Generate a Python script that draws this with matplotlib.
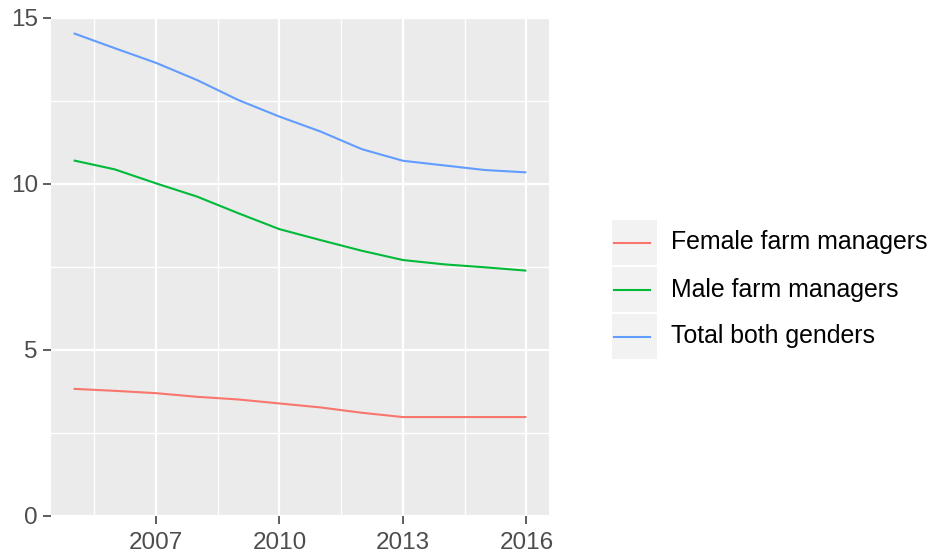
import matplotlib
matplotlib.use("Agg")
import matplotlib.pyplot as plt
from matplotlib.patches import Rectangle
from matplotlib.lines import Line2D

plt.rcParams['font.family'] = ['Liberation Sans', 'DejaVu Sans']

years = [2005, 2006, 2007, 2008, 2009, 2010, 2011, 2012, 2013, 2014, 2015, 2016]
female = [3.83, 3.77, 3.70, 3.59, 3.51, 3.39, 3.27, 3.11, 2.98, 2.98, 2.98, 2.98]
male = [10.71, 10.44, 10.02, 9.62, 9.12, 8.64, 8.31, 7.99, 7.71, 7.58, 7.49, 7.39]
total = [14.54, 14.09, 13.65, 13.13, 12.53, 12.03, 11.58, 11.05, 10.70, 10.56, 10.42, 10.35]
series_names = ["Female farm managers", "Male farm managers", "Total both genders"]
series_values = [female, male, total]
colors = ["#F8766D", "#00BA38", "#619CFF"]
x_ticks = [2007, 2010, 2013, 2016]
x_minor = [2005.5, 2008.5, 2011.5, 2014.5]
y_ticks = [0, 5, 10, 15]
y_minor = [2.5, 7.5, 12.5]

W, H = 933, 555
fig = plt.figure(figsize=(W / 100, H / 100), dpi=100)
fig.patch.set_facecolor("white")

left, right, top, bottom = 51, 549, 18, 516
ax = fig.add_axes([left / W, 1 - bottom / H, (right - left) / W, (bottom - top) / H])
ax.set_facecolor("#EBEBEB")

for name, vals, c in zip(series_names, series_values, colors):
    ax.plot(years, vals, color=c, lw=1.5, solid_capstyle="butt", zorder=3)

ax.set_xlim(2004.45, 2016.55)
ax.set_ylim(0, 15)
ax.set_xticks(x_ticks)
ax.set_xticks(x_minor, minor=True)
ax.set_yticks(y_ticks)
ax.set_yticks(y_minor, minor=True)
ax.set_xticklabels([str(t) for t in x_ticks])
ax.grid(which="major", color="white", lw=1.6, zorder=1)
ax.grid(which="minor", color="white", lw=1.0, zorder=1)
ax.set_axisbelow(True)
for s in ax.spines.values():
    s.set_visible(False)
ax.tick_params(which="major", length=5.5, width=1.1, color="#333333",
               labelsize=17.5, labelcolor="#4D4D4D")
ax.tick_params(axis="x", which="major", pad=6)
ax.tick_params(axis="y", which="major", pad=4)
ax.tick_params(which="minor", length=0)

# legend drawn in figure pixel coordinates
key_x0, key_w, key_h = 612, 45, 45
key_tops = [220, 267, 314]
for name, c, ktop in zip(series_names, colors, key_tops):
    fig.patches.append(Rectangle((key_x0 / W, 1 - (ktop + key_h) / H), key_w / W, key_h / H,
                                 transform=fig.transFigure, facecolor="#F2F2F2",
                                 edgecolor="none"))
    yc = 1 - (ktop + key_h / 2) / H
    fig.lines.append(Line2D([614 / W, 650 / W], [yc, yc], transform=fig.transFigure,
                            color=c, lw=1.5))
    fig.text(671 / W, yc, name, fontsize=17.9, color="black", va="center", ha="left")

fig.savefig("out.png", dpi=100)
